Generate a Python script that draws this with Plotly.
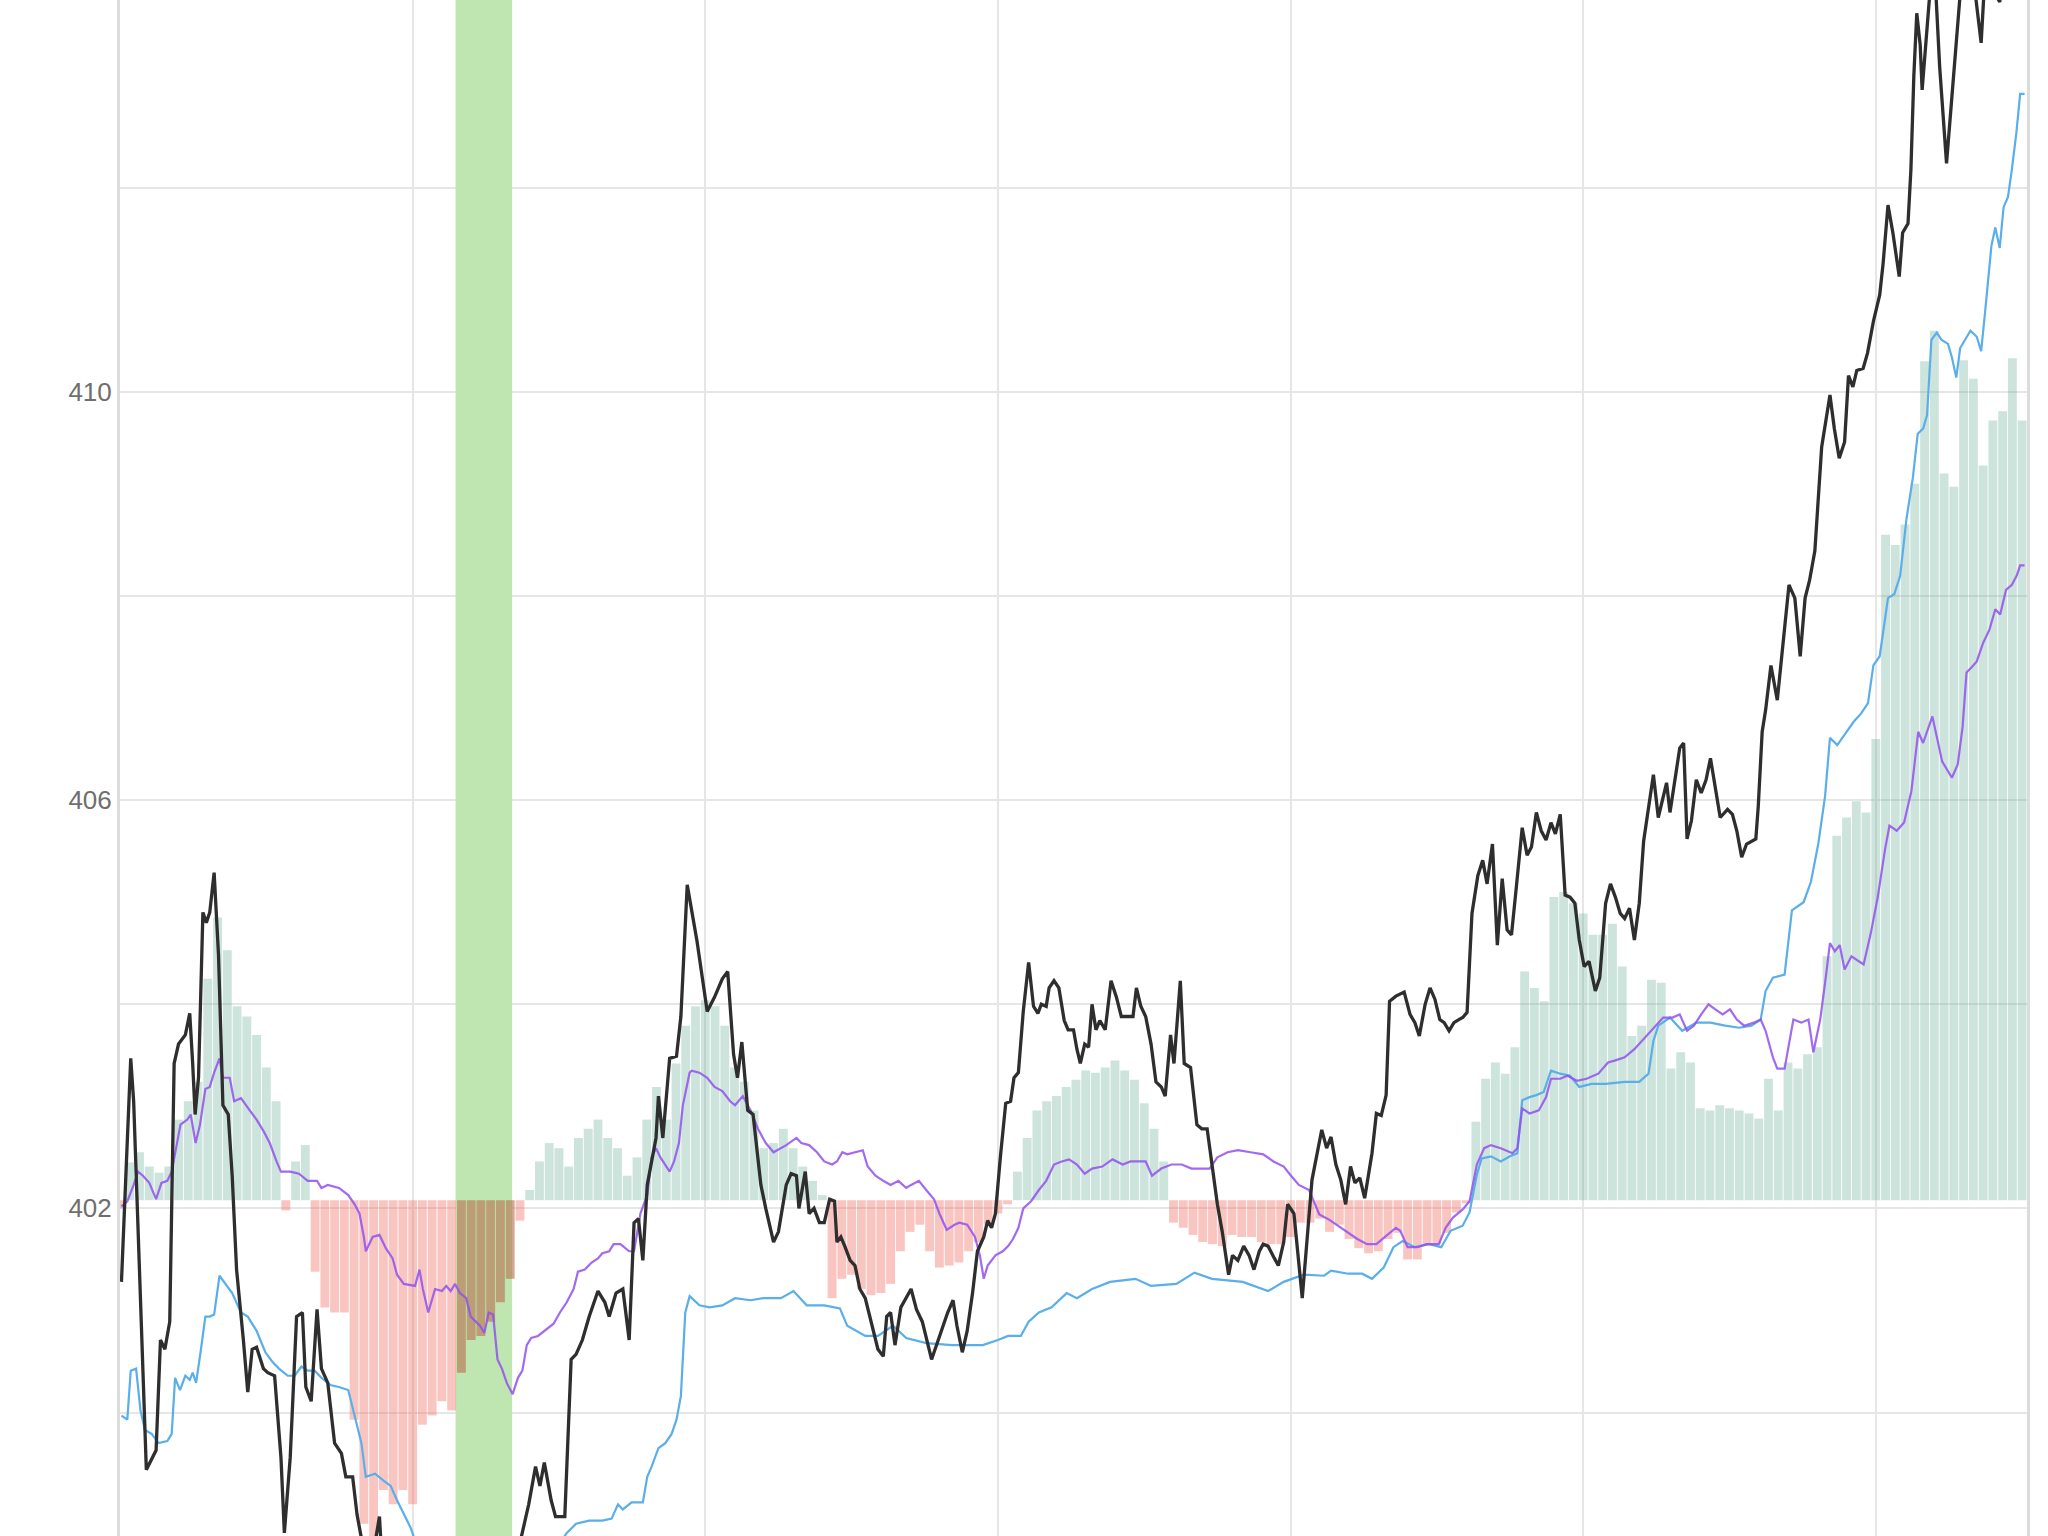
import plotly.graph_objects as go

# ---------------- data ----------------
BASE = 402.08          # baseline of the histogram
BAND_X0, BAND_X1 = 68.8, 80.4   # highlighted band
Y_RANGE = [398.79, 413.84]
X_RANGE = [0, 391]

price_x = [0.3,2.2,2.8,5.4,7.4,8.3,9.2,10.2,11.1,12.0,13.4,14.3,14.9,15.4,16.1,17.0,17.7,18.4,19.3,20.2,
           21.1,22.2,23.0,23.9,25.3,26.2,27.1,28.0,29.4,30.3,31.7,33.0,33.7,34.9,36.2,37.4,38.1,39.2,40.4,41.3,
           42.6,44.0,45.4,46.3,47.7,48.6,50.0,51.5,53.2,53.6,56,62,68,74,80,82.9,83.8,85.2,86.1,87.0,
           88.4,89.3,91.2,92.5,93.5,94.8,96.2,98.0,99.4,100.3,101.7,103.1,104.4,105.4,106.3,107.2,108.1,109.9,110.4,111.3,
           112.7,114.1,115.0,116.3,118.3,120.4,121.9,123.5,124.6,125.8,126.6,127.5,128.7,129.8,131.4,132.4,134.0,135.0,136.6,137.6,
           138.7,139.2,140.5,141.3,142.3,143.4,144.4,145.5,146.5,147.0,147.8,148.6,149.7,150.7,151.7,152.8,154.4,155.4,156.5,157.2,
           158.0,158.9,160.1,161.2,162.2,163.3,164.5,166.4,167.4,168.7,169.7,170.8,171.6,172.7,173.7,174.8,175.8,177.1,177.9,178.7,
           179.5,180.5,181.6,182.6,183.3,184.2,185.2,186.3,187.3,188.2,188.9,189.9,190.5,191.5,192.5,193.6,194.4,195.5,196.2,196.9,
           197.8,198.6,199.3,200.1,200.9,202.0,203.2,204.3,205.3,206.7,207.7,208.4,209.3,210.3,211.4,212.4,213.5,214.3,215.4,216.1,
           217.4,218.2,219.5,220.8,221.8,222.9,223.9,225.0,226.0,227.3,228.1,229.2,230.4,231.5,232.5,233.6,234.4,235.4,236.7,237.5,
           238.6,239.4,240.7,241.5,242.4,244.4,246.4,247.4,248.3,249.3,250.3,251.3,252.3,253.2,254.2,255.2,256.7,257.6,258.6,259.6,
           260.3,261.6,263.3,264.5,265.5,266.4,267.6,268.6,269.6,270.6,271.5,272.5,273.5,274.5,275.3,276.2,277.2,278.4,279.4,280.3,
           281.4,282.4,283.4,284.4,285.3,286.3,287.5,288.5,289.4,290.4,291.4,292.4,293.4,294.3,295.3,296.3,297.3,298.3,299.2,300.2,
           301.2,302.5,303.4,304.6,305.6,306.6,307.6,308.5,309.5,310.5,311.5,312.4,313.4,314.4,315.4,316.4,317.1,317.8,318.8,319.8,
           320.6,321.3,322.2,323.2,324.2,325.2,326.1,327.1,328.1,329.6,330.6,331.5,332.5,333.5,334.5,335.4,335.9,336.7,337.4,338.5,
           339.8,340.9,342.2,343.4,344.5,345.5,346.4,347.5,348.3,348.9,349.8,350.6,351.5,352.5,353.6,354.4,355.3,356.1,357.4,358.3,
           359.5,360.8,361.5,362.5,363.5,364.8,365.5,366.6,367.2,367.8,368.4,369.1,369.5,370.3,371.4,372.0,373.1,374.5,376.1,377.3,
           379.4,381.6,382.4,385.4,386.5,390.0]
price_y = [401.28,403.47,403.05,399.44,399.63,400.71,400.62,400.89,403.42,403.61,403.70,403.91,403.42,402.92,403.28,404.90,404.80,404.90,405.29,404.48,
           403.01,402.92,402.32,401.40,400.71,400.20,400.62,400.64,400.43,400.39,400.36,399.56,398.82,399.56,400.94,400.98,400.25,400.11,401.01,400.43,
           400.29,399.70,399.60,399.37,399.37,399.00,398.64,398.50,398.98,398.64,398.30,397.90,397.60,397.80,398.30,398.91,399.10,399.47,399.28,399.51,
           399.14,398.98,398.98,400.52,400.57,400.71,400.94,401.19,401.08,400.94,401.17,401.21,400.71,401.86,401.90,401.49,402.23,402.69,403.10,402.69,
           403.47,403.49,403.88,405.17,404.62,403.93,404.07,404.25,404.32,403.51,403.28,403.63,402.96,402.92,402.23,402.00,401.67,401.77,402.23,402.34,
           402.32,402.00,402.36,401.95,402.00,401.86,401.86,402.09,402.07,401.67,401.72,401.63,401.49,401.44,401.21,401.12,400.80,400.62,400.55,400.94,
           400.98,400.66,401.03,401.12,401.21,401.01,400.89,400.52,400.66,400.85,400.98,401.10,400.85,400.59,400.80,401.17,401.58,401.72,401.88,401.81,
           401.95,402.50,403.03,403.05,403.28,403.33,403.93,404.41,403.98,403.91,404.00,403.98,404.16,404.23,404.16,403.84,403.75,403.75,403.56,403.42,
           403.61,403.58,404.00,403.75,403.84,403.75,404.23,404.07,403.88,403.88,403.88,404.16,403.98,403.88,403.61,403.24,403.19,403.10,403.70,403.42,
           404.23,403.42,403.38,402.82,402.78,402.78,402.41,402.04,401.77,401.35,401.54,401.49,401.63,401.54,401.40,401.58,401.65,401.63,401.51,401.44,
           401.67,402.04,401.95,401.58,401.12,402.28,402.77,402.59,402.70,402.43,402.28,402.04,402.41,402.25,402.30,402.10,402.54,402.93,402.91,403.11,
           404.03,404.08,404.12,403.90,403.82,403.69,404.00,404.16,404.05,403.85,403.82,403.74,403.82,403.85,403.87,403.92,404.89,405.26,405.41,405.18,
           405.57,404.58,405.23,404.73,404.68,405.15,405.73,405.46,405.54,405.88,405.70,405.61,405.78,405.67,405.86,405.07,405.05,404.99,404.63,404.37,
           404.42,404.13,404.26,404.99,405.18,405.05,404.89,404.84,404.94,404.63,404.99,405.60,405.94,406.25,405.83,406.04,406.17,405.88,406.22,406.51,
           406.56,405.62,405.80,406.20,406.07,406.20,406.41,406.14,405.83,405.91,405.86,405.70,405.44,405.57,405.60,405.62,405.94,406.67,406.88,407.32,
           406.98,407.49,408.11,407.98,407.41,407.98,408.15,408.44,409.03,409.46,409.73,409.97,409.64,409.35,409.51,410.16,410.05,410.21,410.23,410.38,
           410.69,410.95,411.26,411.83,411.56,411.13,411.56,411.65,412.18,413.10,413.71,413.40,412.96,413.49,414.10,414.20,413.18,412.24,413.18,413.90,
           414.30,413.42,414.10,413.82,414.20,414.30]

slow_x = [0.3,1.5,2.2,3.3,4.2,5.1,6.5,7.9,9.7,10.6,11.3,12.3,13.4,14.3,14.9,15.6,16.6,17.5,18.4,19.3,
          20.4,21.6,23.0,24.8,26.2,28.0,29.8,31.2,32.6,34.4,35.8,37.2,38.5,39.9,41.3,43.1,44.9,46.8,48.1,49.5,
          50.4,52.3,54.1,55.5,56.8,58.2,59.6,61.0,66,72,80,86,91.6,93.5,96.2,98.9,100.8,102.1,103.1,104.9,
          107.2,108.1,109.0,110.4,111.8,113.1,114.1,115.0,115.4,115.9,116.8,118.8,120.9,123.5,126.1,129.3,131.9,135.5,138.1,140.8,
          144.4,147.6,149.1,152.8,155.4,158.5,161.2,165.3,170.6,176.9,180.0,182.1,184.7,186.3,188.4,191.0,194.1,196.2,199.3,203.0,
          208.2,211.4,216.6,220.3,223.9,230.2,235.4,238.6,242.7,246.9,248.3,251.8,254.7,256.7,259.1,261.1,263.0,265.5,268.4,270.9,
          272.8,275.3,276.7,278.2,279.2,281.1,283.1,285.0,286.5,287.5,289.0,290.4,291.9,293.4,295.3,297.3,299.2,301.7,304.6,308.5,
          311.5,313.4,314.4,315.4,317.8,320.3,323.2,326.1,329.1,332.0,334.5,336.4,337.4,338.9,341.3,342.8,345.2,346.7,348.2,349.6,
          350.6,352.1,354.0,355.5,357.0,358.4,359.5,360.8,362.5,363.8,365.0,366.3,367.6,368.6,369.7,370.5,371.4,372.5,373.5,374.8,
          375.6,376.5,377.3,379.4,380.7,381.6,382.4,383.7,384.5,385.4,386.2,387.1,387.9,388.8,389.6,390.5]
slow_y = [399.97,399.93,400.41,400.43,400.02,399.83,399.79,399.70,399.72,399.79,400.34,400.22,400.36,400.32,400.39,400.29,400.62,400.94,400.94,400.96,
          401.34,401.26,401.17,400.98,400.94,400.80,400.59,400.50,400.43,400.36,400.36,400.45,400.41,400.41,400.34,400.27,400.25,400.22,399.97,399.70,
          399.37,399.40,399.33,399.28,399.14,399.00,398.87,398.68,398.40,398.20,398.20,398.40,398.82,398.91,398.94,398.94,398.96,399.10,399.05,399.12,
          399.12,399.37,399.47,399.65,399.70,399.79,399.93,400.16,400.48,400.98,401.14,401.05,401.03,401.05,401.12,401.10,401.12,401.12,401.19,401.05,
          401.05,401.02,400.85,400.75,400.75,400.85,400.73,400.68,400.66,400.66,400.71,400.75,400.75,400.89,400.98,401.03,401.17,401.12,401.21,401.28,
          401.31,401.24,401.26,401.37,401.31,401.28,401.19,401.28,401.35,401.34,401.39,401.36,401.36,401.31,401.42,401.62,401.68,401.62,401.65,401.62,
          401.78,401.83,401.96,402.33,402.49,402.51,402.46,402.51,402.54,403.06,403.09,403.11,403.14,403.35,403.32,403.30,403.19,403.22,403.22,403.24,
          403.24,403.32,403.64,403.79,403.87,403.74,403.82,403.82,403.79,403.77,403.79,403.85,404.13,404.26,404.29,404.92,405.00,405.20,405.57,406.04,
          406.61,406.54,406.67,406.77,406.85,406.95,407.32,407.41,407.98,408.02,408.20,408.76,409.16,409.59,409.64,409.77,410.51,410.58,410.51,410.47,
          410.34,410.14,410.43,410.60,410.54,410.40,410.78,411.43,411.61,411.41,411.81,411.91,412.18,412.53,412.92,412.92]

fast_x = [0.3,1.5,2.8,3.7,4.7,6.0,7.4,8.5,9.7,10.6,11.5,12.4,13.8,14.5,15.5,16.4,17.5,18.4,19.3,20.4,
          21.1,22.5,23.4,24.8,26.6,28.0,29.4,30.7,32.1,33.0,34.9,36.7,38.5,40.4,41.3,42.6,44.9,46.8,48.1,49.1,
          50.0,50.4,51.8,53.2,54.5,55.9,56.8,58.2,60.5,61.4,62.1,63.2,64.6,66.0,66.9,67.8,68.7,69.7,71.0,71.9,
          73.8,74.7,75.6,76.5,77.4,78.3,79.3,80.5,81.6,82.5,83.4,84.3,85.7,87.0,88.9,90.2,91.6,93.0,93.9,95.3,
          96.7,98.0,98.9,100.3,101.2,102.6,103.5,104.4,105.4,106.7,108.1,109.0,109.9,110.8,112.7,113.6,114.6,115.4,116.8,117.2,
          118.8,120.4,121.9,123.5,125.1,126.1,127.7,129.3,130.8,132.4,134.0,135.5,136.6,138.7,139.7,141.3,142.9,144.4,146.0,147.0,
          148.1,149.1,150.7,152.3,153.3,154.9,156.5,158.0,159.6,161.2,162.2,163.8,165.3,166.9,168.0,169.5,171.1,172.1,173.7,175.3,
          176.3,177.1,177.9,179.5,181.0,182.1,183.1,184.2,185.2,186.8,188.4,189.9,191.5,193.1,194.6,196.2,197.8,199.3,201.4,203.5,
          205.6,207.2,210.3,211.6,213.5,215.6,217.7,219.7,223.4,225.0,227.1,229.2,231.8,234.4,236.5,238.6,240.1,241.7,243.8,245.9,
          247.9,249.8,251.8,253.7,255.7,257.6,259.6,261.6,262.5,264.0,266.0,267.9,270.4,271.8,273.3,275.3,276.7,278.2,279.7,281.1,
          283.1,285.5,286.5,287.5,289.0,290.9,292.4,293.4,295.3,296.8,298.7,300.7,303.1,305.1,306.6,308.5,310.5,312.4,314.4,316.4,
          318.3,319.8,321.3,322.7,324.2,325.7,327.1,328.6,330.1,331.5,333.0,335.0,336.4,337.4,338.9,339.8,341.3,342.3,343.1,344.7,
          346.2,347.2,348.6,349.6,350.6,351.6,352.6,353.6,355.0,357.5,358.9,360.4,361.9,362.8,364.3,365.8,367.3,368.7,369.7,371.6,
          372.6,373.6,375.6,376.8,377.8,378.6,379.6,380.7,382.0,383.3,384.5,385.5,386.7,387.9,388.9,389.6,390.5]
fast_y = [402.02,402.07,402.23,402.36,402.32,402.25,402.09,402.25,402.27,402.36,402.59,402.82,402.87,402.92,402.64,402.82,403.17,403.19,403.33,403.47,
          403.28,403.28,403.05,403.08,402.96,402.87,402.76,402.64,402.46,402.36,402.36,402.34,402.27,402.27,402.20,402.23,402.20,402.13,402.04,401.95,
          401.72,401.58,401.72,401.74,401.61,401.51,401.35,401.26,401.24,401.40,401.21,400.98,401.21,401.19,401.24,401.19,401.26,401.17,401.12,400.94,
          400.85,400.78,400.98,400.96,400.52,400.43,400.29,400.18,400.34,400.41,400.66,400.73,400.75,400.80,400.87,400.98,401.08,401.21,401.38,401.40,
          401.47,401.51,401.56,401.58,401.65,401.65,401.61,401.58,401.58,401.95,402.13,402.50,402.59,402.50,402.36,402.46,402.64,403.01,403.33,403.35,
          403.33,403.28,403.19,403.15,403.05,403.01,403.10,402.96,402.78,402.64,402.55,402.59,402.62,402.69,402.64,402.62,402.55,402.46,402.43,402.46,
          402.55,402.53,402.55,402.57,402.41,402.32,402.27,402.23,402.27,402.20,402.23,402.27,402.18,402.09,401.95,401.79,401.84,401.86,401.84,401.72,
          401.54,401.31,401.44,401.54,401.58,401.63,401.70,401.81,402.00,402.07,402.18,402.27,402.43,402.46,402.48,402.43,402.34,402.39,402.41,402.48,
          402.43,402.46,402.46,402.32,402.39,402.43,402.43,402.39,402.39,402.50,402.55,402.57,402.55,402.53,402.46,402.41,402.32,402.23,402.18,401.94,
          401.89,401.83,401.76,401.70,401.65,401.65,401.73,401.81,401.78,401.62,401.62,401.65,401.65,401.81,401.91,401.99,402.07,402.43,402.59,402.62,
          402.59,402.54,402.59,402.98,402.93,402.96,403.09,403.27,403.27,403.30,403.25,403.27,403.32,403.43,403.45,403.48,403.56,403.66,403.77,403.87,
          403.87,403.90,403.74,403.79,403.90,404.00,403.95,403.90,403.95,403.85,403.79,403.82,403.85,403.74,403.48,403.37,403.37,403.64,403.85,403.82,
          403.85,403.53,403.85,404.21,404.60,404.52,404.58,404.34,404.47,404.39,404.68,405.05,405.52,405.75,405.70,405.78,406.09,406.67,406.56,406.82,
          406.61,406.38,406.22,406.35,406.72,407.25,407.30,407.36,407.54,407.67,407.87,407.82,408.06,408.11,408.20,408.30,408.30]

# histogram values (offset from BASE), one every 2 x-units starting at 0
hist = [-0.08,0.37,0.47,0.33,0.27,0.33,0.79,0.97,1.16,2.17,2.77,2.45,1.90,1.80,1.62,1.30,0.97,-0.10,0.38,0.54,
        -0.70,-1.05,-1.10,-1.10,-2.15,-3.17,-3.40,-2.84,-2.98,-2.84,-2.98,-2.20,-2.11,-1.97,-2.06,-1.69,-1.37,-1.33,-1.19,-1.00,
        -0.77,-0.20,0.10,0.38,0.56,0.51,0.33,0.61,0.70,0.79,0.61,0.51,0.24,0.42,0.79,1.11,0.79,1.34,1.71,1.90,
        1.96,1.90,1.71,1.30,1.16,0.88,0.51,0.56,0.70,0.51,0.33,0.19,0.05,-0.96,-0.77,-0.73,-0.87,-0.93,-0.91,-0.82,
        -0.50,-0.31,-0.24,-0.50,-0.66,-0.64,-0.61,-0.50,-0.41,-0.24,-0.13,-0.04,0.28,0.61,0.88,0.97,1.02,1.11,1.18,1.27,
        1.25,1.30,1.37,1.27,1.18,0.95,0.70,0.38,-0.22,-0.27,-0.34,-0.41,-0.43,-0.45,-0.34,-0.36,-0.36,-0.41,-0.43,-0.43,
        -0.36,-0.22,-0.22,-0.18,-0.31,-0.24,-0.38,-0.47,-0.52,-0.50,-0.38,-0.32,-0.58,-0.58,-0.43,-0.43,-0.32,-0.12,-0.03,0.77,
        1.19,1.35,1.24,1.50,2.24,2.08,1.95,2.97,3.02,2.91,2.81,2.60,2.60,2.71,2.29,1.61,1.71,2.16,2.13,1.29,
        1.45,1.35,0.90,0.88,0.93,0.90,0.88,0.85,0.80,1.19,0.88,1.35,1.29,1.43,1.50,2.39,3.57,3.75,3.91,3.80,
        4.52,6.52,6.42,6.62,7.02,8.22,8.52,7.12,6.99,8.23,8.05,7.20,7.64,7.73,8.25,7.64]
hist_x = [2 * i for i in range(len(hist))]

# ---------------- styling ----------------
GREEN_BAR = "rgba(100,170,150,0.32)"
RED_BAR = "rgba(240,110,100,0.40)"
BAND_BAR = "rgba(186,113,83,0.62)"
BAND_COLOR = "rgb(191,230,176)"
BAR_WIDTH = 1.82

colors = []
for x, h in zip(hist_x, hist):
    if h >= 0:
        colors.append(GREEN_BAR)
    elif BAND_X0 <= x <= BAND_X1:
        colors.append(BAND_BAR)
    else:
        colors.append(RED_BAR)

fig = go.Figure()
# highlighted band (drawn as a full-height bar so it sits above the grid, below the data)
fig.add_trace(go.Bar(x=[(BAND_X0 + BAND_X1) / 2], y=[Y_RANGE[1] - Y_RANGE[0] + 2],
                     base=Y_RANGE[0] - 1, width=[BAND_X1 - BAND_X0],
                     marker=dict(color=BAND_COLOR, line=dict(width=0)), hoverinfo="skip"))
fig.add_trace(go.Bar(x=hist_x, y=hist, base=BASE, width=BAR_WIDTH,
                     marker=dict(color=colors, line=dict(width=0)), hoverinfo="skip"))
fig.add_trace(go.Scatter(x=slow_x, y=slow_y, mode="lines",
                         line=dict(color="#5aaeea", width=2.2)))
fig.add_trace(go.Scatter(x=fast_x, y=fast_y, mode="lines",
                         line=dict(color="rgba(145,80,238,0.85)", width=2.2)))
fig.add_trace(go.Scatter(x=price_x, y=price_y, mode="lines",
                         line=dict(color="#2e2e2e", width=3.3)))

GRID = "#e6e6e6"
fig.update_layout(
    width=2048, height=1536,
    margin=dict(l=120, r=21, t=0, b=0),
    plot_bgcolor="white", paper_bgcolor="white",
    showlegend=False, barmode="overlay",
    font=dict(family="Liberation Sans, Arial, sans-serif"),
)
fig.update_xaxes(range=X_RANGE, showgrid=True, gridcolor=GRID, gridwidth=2,
                 tick0=0, dtick=60, showticklabels=False, zeroline=False,
                 showline=False, ticks="")
fig.update_yaxes(range=Y_RANGE, showgrid=True, gridcolor=GRID, gridwidth=2,
                 tick0=402, dtick=4, minor=dict(dtick=2, showgrid=True, gridcolor=GRID, gridwidth=2),
                 zeroline=False, showline=True, linecolor="#dcdcdc", linewidth=3, mirror=True,
                 ticks="", ticklabelstandoff=0,
                 tickfont=dict(size=26, color="#6e6e6e", family="Liberation Sans, Arial, sans-serif"))

fig.write_html("out.html", config={"displayModeBar": False},
               post_script="document.body.style.margin='0';document.body.style.overflow='hidden';")
